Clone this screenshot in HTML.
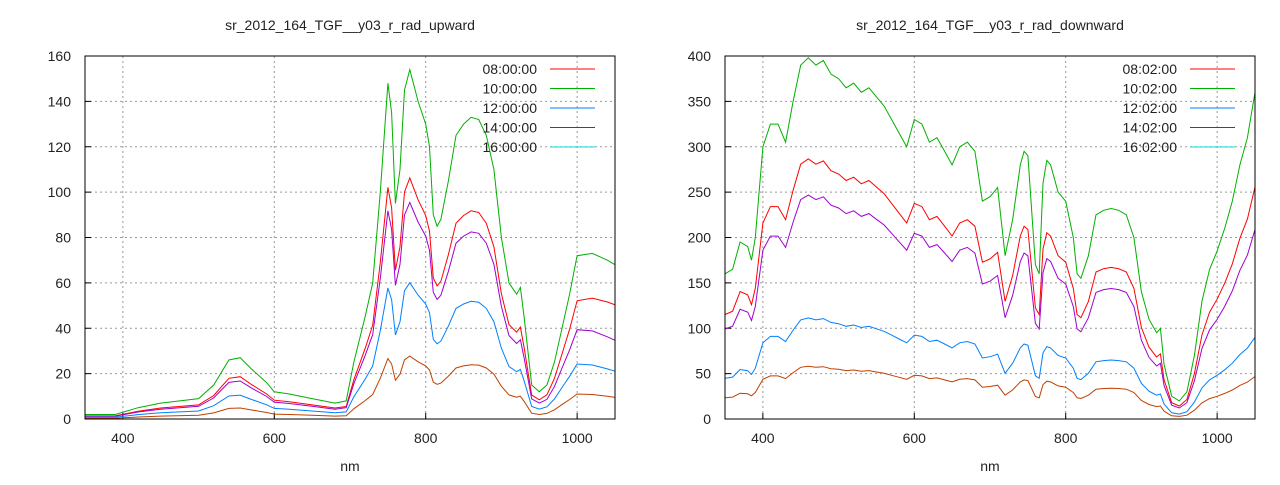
<!DOCTYPE html>
<html><head><meta charset="utf-8"><style>
body{margin:0;background:#fff;}
svg text{font-family:"Liberation Sans",sans-serif;font-size:14px;fill:#222;}
</style></head><body>
<svg id="s" width="1280" height="480" xmlns="http://www.w3.org/2000/svg"></svg>
<script>
const S=document.getElementById('s');let h='';
const G=[[350,2],[390,2],[400,3],[420,5],[450,7],[500,9],[520,15],[540,26],[555,27],[570,22],[590,16],[600,12],[620,11],[650,9],[680,7],[695,8],[705,25],[720,45],[730,60],[740,100],[750,148],[755,135],[760,95],[766,110],[772,145],[779,154],[790,140],[800,130],[805,120],[810,90],[815,85],[820,88],[830,105],[840,125],[850,130],[860,133],[870,132],[880,125],[890,110],[900,80],[910,60],[920,55],[925,58],[930,45],[940,15],[950,12],[960,15],[970,25],[980,40],[990,55],[1000,72],[1020,73],[1040,70],[1050,68]];
const R=[[350,160],[360,165],[370,195],[380,190],[385,175],[390,200],[400,300],[410,325],[420,325],[430,305],[440,350],[450,390],[460,398],[470,390],[480,395],[490,380],[500,375],[510,365],[520,370],[530,360],[540,365],[550,355],[560,345],[570,330],[580,315],[590,300],[600,330],[610,325],[620,305],[630,310],[640,295],[650,280],[660,300],[670,305],[680,295],[690,240],[700,245],[710,255],[720,180],[730,220],[740,280],[745,295],[750,290],[760,170],[765,160],[770,260],[775,285],[780,280],[790,250],[800,240],[810,200],[815,160],[820,155],[830,180],[840,225],[850,230],[860,232],[870,230],[880,225],[890,200],[900,140],[910,110],[920,95],[925,100],[930,60],[940,25],[950,20],[960,30],[970,70],[980,130],[990,165],[1000,185],[1010,210],[1020,240],[1030,280],[1040,310],[1050,360]];
function plot(x0,ymax,yt,title,labs,data,sc,sc2){
 const x1=x0+530,y0=56,y1=419;
 const X=v=>x0+(v-350)/700*530, Y=v=>y1-v/ymax*363;
 h+=`<text x="${x0+265}" y="30" text-anchor="middle">${title}</text>`;
 for(let v=400;v<=1000;v+=200){h+=`<line x1="${X(v)}" y1="${y0}" x2="${X(v)}" y2="${y1}" stroke="#999" stroke-dasharray="2,3"/><text x="${X(v)}" y="443" text-anchor="middle">${v}</text><line x1="${X(v)}" y1="${y1}" x2="${X(v)}" y2="${y1-6}" stroke="#000"/>`;}
 for(let v=0;v<=ymax;v+=yt){h+=`<text x="${x0-14}" y="${Y(v)+5}" text-anchor="end">${v}</text>`;if(v>0&&v<ymax)h+=`<line x1="${x0}" y1="${Y(v)}" x2="${x1}" y2="${Y(v)}" stroke="#999" stroke-dasharray="2,3"/>`;h+=`<line x1="${x0}" y1="${Y(v)}" x2="${x0+6}" y2="${Y(v)}" stroke="#000"/>`;}
 h+=`<text x="${x0+265}" y="471" text-anchor="middle">nm</text>`;
 const cols=['#00b000','#ff0000','#a000d0','#0080ff','#c04000'];
 cols.forEach((c,i)=>{let pts=data.map(([v,y])=>{const t=Math.max(0,(v-900)/150);const s=sc[i]*(1-t)+sc2[i]*t;return X(v).toFixed(1)+','+Y(y*s).toFixed(1)}).join(' ');h+=`<polyline points="${pts}" fill="none" stroke="${c}" stroke-width="1"/>`;});
 const lc=['#ff0000','#00b000','#0080ff','#a000d0','#00e0e0'];
 labs.forEach((l,i)=>{const y=y0+13+i*19.5;h+=`<text x="${x1-78}" y="${y+5}" text-anchor="end">${l}</text><line x1="${x1-65}" y1="${y}" x2="${x1-20}" y2="${y}" stroke="${lc[i]}"/>`;});
 h+=`<rect x="${x0}" y="${y0}" width="530" height="363" fill="none" stroke="#000"/>`;
}
plot(85,160,20,'sr_2012_164_TGF__y03_r_rad_upward',['08:00:00','10:00:00','12:00:00','14:00:00','16:00:00'],G,[1,0.69,0.62,0.39,0.18],[1,0.74,0.51,0.31,0.14]);
plot(725,400,50,'sr_2012_164_TGF__y03_r_rad_downward',['08:02:00','10:02:00','12:02:00','14:02:00','16:02:00'],R,[1,0.72,0.62,0.28,0.146],[1,0.71,0.58,0.25,0.13]);
S.innerHTML=h;
</script></body></html>
